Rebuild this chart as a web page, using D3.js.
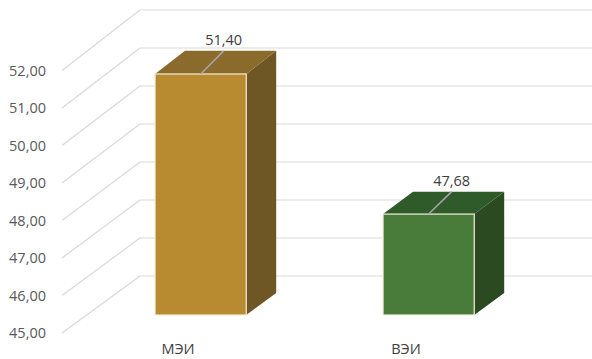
<!DOCTYPE html>
<html><head><meta charset="utf-8">
<script src="https://cdn.jsdelivr.net/npm/d3@7"></script>
<style>body{margin:0;background:#fff;}svg{display:block;font-family:"Open Sans",sans-serif;}</style>
</head><body>
<svg id="c" width="592" height="359"></svg>
<script>
const categories = ["МЭИ", "ВЭИ"];
const values = [51.40, 47.68];
const labels = ["51,40", "47,68"];
const tickValues = [45, 46, 47, 48, 49, 50, 51, 52];
const tickLabels = ["45,00", "46,00", "47,00", "48,00", "49,00", "50,00", "51,00", "52,00"];
const faceColors = [
  {front: "#B88B30", top: "#8B6B2B", side: "#6F5625"},
  {front: "#497B3A", top: "#2F5B2A", side: "#2C4A21"}
];

const svg = d3.select("#c");
const W = 592;
const yFront = d3.scaleLinear().domain([45, 52]).range([333, 70.5]);
const yBack = d3.scaleLinear().domain([45, 52]).range([276, 10]);
const xFrontLeft = 62, depthDX = 78;
const yAt = (v, d) => yFront(v) + d * (yBack(v) - yFront(v));
const x = d3.scaleBand().domain(categories).range([62, 518]).paddingInner(0.6).paddingOuter(0.3);

// back wall gridlines
svg.append("g").selectAll("line").data(tickValues).join("line")
  .attr("x1", xFrontLeft + depthDX).attr("x2", W)
  .attr("y1", d => yBack(d)).attr("y2", d => yBack(d))
  .attr("stroke", "#d9d9d9").attr("stroke-width", 1.2);
// side wall gridlines
svg.append("g").selectAll("line").data(tickValues).join("line")
  .attr("x1", xFrontLeft).attr("x2", xFrontLeft + depthDX)
  .attr("y1", d => yFront(d)).attr("y2", d => yBack(d))
  .attr("stroke", "#d9d9d9").attr("stroke-width", 1.2);

// tick labels
svg.append("g").selectAll("text").data(tickValues).join("text")
  .attr("x", 46).attr("y", d => yFront(d)).attr("dy", "0.36em")
  .attr("text-anchor", "end").attr("font-size", 14.5).attr("fill", "#595959")
  .text((d, i) => tickLabels[i]);

const d0 = 0.316, d1 = 0.70;
const base = 45;
const g = svg.append("g");
categories.forEach((c, i) => {
  const v = values[i];
  const col = faceColors[i];
  const xl = x(c) + depthDX * d0, xr = x(c) + x.bandwidth() + depthDX * d0;
  const off = depthDX * (d1 - d0);
  const topF = yAt(v, d0), topB = yAt(v, d1);
  const botF = yAt(base, d0), botB = yAt(base, d1);
  // side
  g.append("path").attr("d", `M${xr},${topF}L${xr + off},${topB}L${xr + off},${botB}L${xr},${botF}Z`)
    .attr("fill", col.side);
  // top
  g.append("path").attr("d", `M${xl},${topF}L${xl + off},${topB}L${xr + off},${topB}L${xr},${topF}Z`)
    .attr("fill", col.top);
  // front
  g.append("rect").attr("x", xl).attr("y", topF).attr("width", xr - xl).attr("height", botF - topF)
    .attr("fill", col.front).attr("stroke", "#f3ecd9").attr("stroke-width", 1.2);
  // leader line & label
  const mx = (xl + xr) / 2;
  g.append("line").attr("x1", mx).attr("y1", topF).attr("x2", mx + 23).attr("y2", topB)
    .attr("stroke", "#a6a6a6").attr("stroke-width", 1.5);
  g.append("text").attr("x", mx + 23).attr("y", topB - 6).attr("text-anchor", "middle")
    .attr("font-size", 14.5).attr("fill", "#404040").text(labels[i]);
  // category label
  svg.append("text").attr("x", x(c) + x.bandwidth() / 2 + 2).attr("y", 354)
    .attr("text-anchor", "middle").attr("font-size", 14.5).attr("fill", "#404040").text(c);
});
</script>
</body></html>
